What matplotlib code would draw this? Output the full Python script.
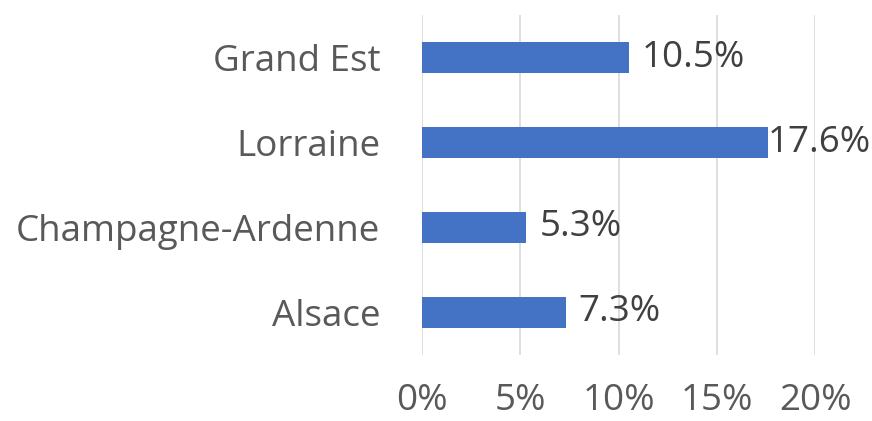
import matplotlib.pyplot as plt

regions = ["Alsace", "Champagne-Ardenne", "Lorraine", "Grand Est"]
values = [7.3, 5.3, 17.6, 10.5]
xticks = [0, 5, 10, 15, 20]
xtick_labels = ["0%", "5%", "10%", "15%", "20%"]

plt.rcParams['font.family'] = ['Open Sans', 'DejaVu Sans']

fig = plt.figure(figsize=(8.72, 4.21), dpi=100)
ax = fig.add_axes([0.484, 0.157, 0.451, 0.807])

ax.barh(regions, values, height=0.36, color='#4472C4', zorder=3)

for i, v in enumerate(values):
    # label gets pushed back onto the bar end when it would run off the chart
    off = 0 if v > 17 else 13
    ax.annotate(f"{v}%", (v, i), xytext=(off, 0), textcoords='offset pixels',
                va='center', ha='left', fontsize=26.5, color='#404040')

ax.set_xlim(0, 20)
ax.set_ylim(-0.5, 3.5)
ax.set_xticks(xticks)
ax.set_xticklabels(xtick_labels)
ax.grid(axis='x', color='#D9D9D9', linewidth=1.2, zorder=0)
for s in ax.spines.values():
    s.set_visible(False)
ax.tick_params(axis='both', length=0, labelsize=26.5, labelcolor='#595959')
ax.tick_params(axis='x', pad=20)
ax.tick_params(axis='y', pad=30)

fig.savefig('out.png', dpi=100)
